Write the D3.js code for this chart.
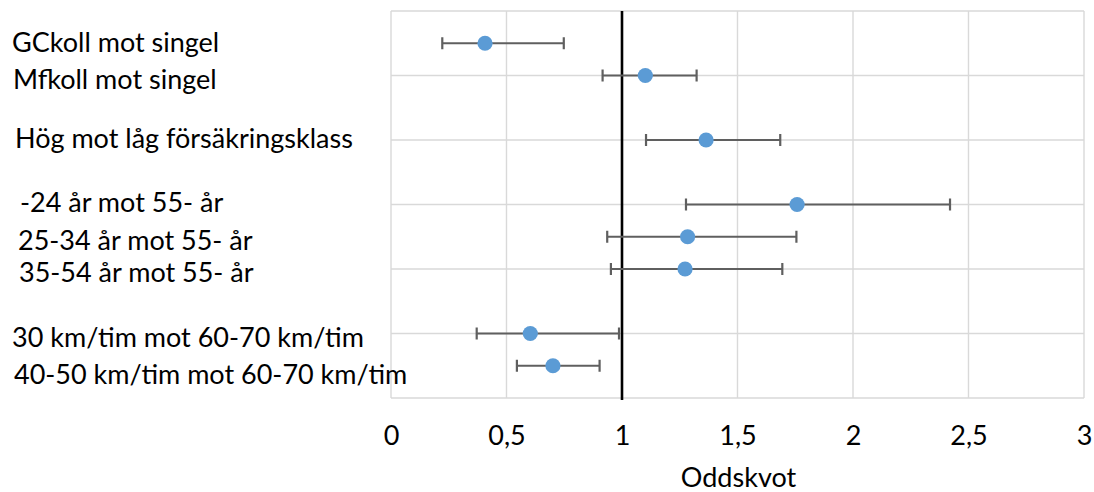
<!DOCTYPE html>
<html>
<head>
<meta charset="utf-8">
<script src="https://cdn.jsdelivr.net/npm/d3@7"></script>
<style>
  html, body { margin: 0; padding: 0; background: #fff; }
  svg { display: block; font-family: Lato, "Open Sans", sans-serif; }
</style>
</head>
<body>
<svg id="chart" width="1094" height="492"></svg>
<script>
// ---- data ----
const categories = [
  "GCkoll mot singel",
  "Mfkoll mot singel",
  "Hög mot låg försäkringsklass",
  "-24 år mot 55- år",
  "25-34 år mot 55- år",
  "35-54 år mot 55- år",
  "30 km/tim mot 60-70 km/tim",
  "40-50 km/tim mot 60-70 km/tim"
];
const rowPos = [1, 2, 4, 6, 7, 8, 10, 11];
const oddsRatio = [0.407, 1.101, 1.364, 1.758, 1.284, 1.273, 0.603, 0.701];
const lowerCI  = [0.222, 0.916, 1.104, 1.277, 0.936, 0.952, 0.371, 0.545];
const upperCI  = [0.748, 1.323, 1.685, 2.420, 1.755, 1.694, 0.987, 0.903];
const xTicks = [0, 0.5, 1, 1.5, 2, 2.5, 3];
const yGrid = [0, 2, 4, 6, 8, 10, 12];
const refValue = 1;
const xTitle = "Oddskvot";

// ---- layout ----
const W = 1094, H = 492;
const plot = { left: 391, right: 1084, top: 11, bottom: 398 };
const labelX = [12, 13, 15, 20, 18, 19, 12, 14];
const labelDy = [9, 13.5, 8, 7, 13, 13, 13, 18];

const svg = d3.select("#chart");
const x = d3.scaleLinear().domain([0, 3]).range([plot.left, plot.right]);
const y = d3.scaleLinear().domain([0, 12]).range([plot.top, plot.bottom]);

const fmt = d => String(d).replace(".", ",");

// grid
const grid = svg.append("g");
grid.selectAll("line.h").data(yGrid).join("line")
  .attr("x1", plot.left).attr("x2", plot.right)
  .attr("y1", d => y(d)).attr("y2", d => y(d))
  .attr("stroke", "#d9d9d9").attr("stroke-width", 1.4);
grid.selectAll("line.v").data(xTicks).join("line")
  .attr("x1", d => x(d)).attr("x2", d => x(d))
  .attr("y1", plot.top).attr("y2", plot.bottom)
  .attr("stroke", "#d9d9d9").attr("stroke-width", 1.4);

// x axis tick labels via d3 axis
const xAxis = d3.axisBottom(x).tickValues(xTicks).tickFormat(fmt).tickSize(0).tickPadding(0);
const ax = svg.append("g").attr("transform", `translate(0,${plot.bottom})`).call(xAxis);
ax.select(".domain").remove();
ax.selectAll("text")
  .attr("y", 47).attr("dy", null)
  .attr("font-size", 27).attr("font-family", "Lato, 'Open Sans', sans-serif")
  .attr("fill", "#000");

// reference line
svg.append("line")
  .attr("x1", x(refValue)).attr("x2", x(refValue))
  .attr("y1", plot.top).attr("y2", plot.bottom + 2)
  .attr("stroke", "#000").attr("stroke-width", 2.6);

// error bars
const data = categories.map((c, i) => ({ c, r: rowPos[i], v: oddsRatio[i], lo: lowerCI[i], hi: upperCI[i], i }));
const eb = svg.append("g").attr("stroke", "#5f5f5f").attr("stroke-width", 2.2);
eb.selectAll("line.bar").data(data).join("line")
  .attr("x1", d => x(d.lo)).attr("x2", d => x(d.hi))
  .attr("y1", d => y(d.r)).attr("y2", d => y(d.r));
eb.selectAll("line.capl").data(data).join("line")
  .attr("x1", d => x(d.lo)).attr("x2", d => x(d.lo))
  .attr("y1", d => y(d.r) - 6).attr("y2", d => y(d.r) + 6);
eb.selectAll("line.caph").data(data).join("line")
  .attr("x1", d => x(d.hi)).attr("x2", d => x(d.hi))
  .attr("y1", d => y(d.r) - 6).attr("y2", d => y(d.r) + 6);

// points
svg.append("g").selectAll("circle").data(data).join("circle")
  .attr("cx", d => x(d.v)).attr("cy", d => y(d.r)).attr("r", 7.6)
  .attr("fill", "#5b9bd5");

// category labels
svg.append("g").selectAll("text").data(data).join("text")
  .attr("x", d => labelX[d.i])
  .attr("y", d => y(d.r) + labelDy[d.i])
  .attr("font-size", 27).attr("fill", "#000")
  .text(d => d.c);

// axis title
svg.append("text")
  .attr("x", (plot.left + plot.right) / 2 + 1).attr("y", 487)
  .attr("text-anchor", "middle").attr("font-size", 27).attr("fill", "#000")
  .text(xTitle);
</script>
</body>
</html>
